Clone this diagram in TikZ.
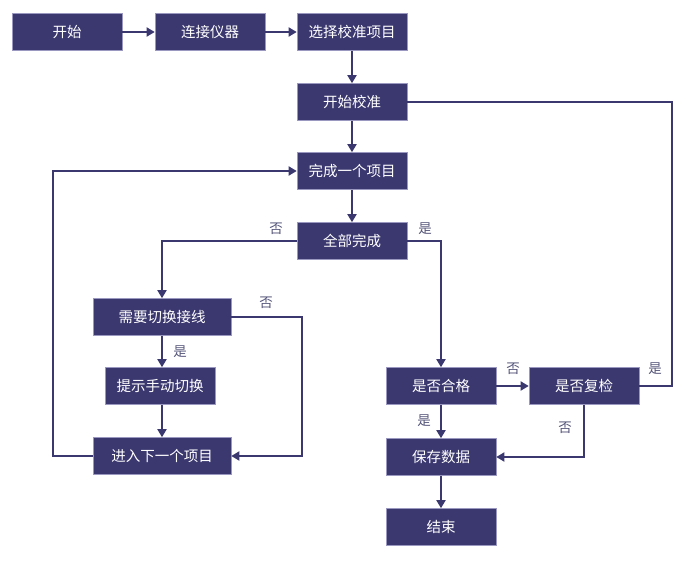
\documentclass[tikz,border=0pt]{standalone}
\usepackage{fontspec}
\setmainfont{Noto Sans CJK SC}
\usetikzlibrary{arrows.meta}
\definecolor{boxfill}{HTML}{3B3870}
\definecolor{boxedge}{HTML}{9A98C0}
\definecolor{linec}{HTML}{3B3870}
\definecolor{labc}{HTML}{55557A}
\begin{document}
\begin{tikzpicture}[x=1pt,y=-1pt,
  box/.style={draw=boxedge,line width=0.6pt,fill=boxfill,text=white,font=\fontsize{14.5}{15}\selectfont,minimum width=110pt,minimum height=37pt,inner sep=0pt},
  wide/.style={box,minimum width=138pt},
  conn/.style={draw=linec,line width=1.8pt},
  arr/.style={conn,-{Triangle[length=8pt,width=9pt]}},
  lab/.style={text=labc,font=\fontsize{13.5}{14}\selectfont,inner sep=0pt}]
\useasboundingbox (0,0) rectangle (679,561);
\node[box] (start) at (67,32) {开始};
\node[box] (connect) at (210,32) {连接仪器};
\node[box] (select) at (352,32) {选择校准项目};
\node[box] (calib) at (352,102) {开始校准};
\node[box] (done1) at (352,171) {完成一个项目};
\node[box] (all) at (352,241) {全部完成};
\node[wide] (need) at (162,317) {需要切换接线};
\node[box] (prompt) at (160,386) {提示手动切换};
\node[wide] (next) at (162,456) {进入下一个项目};
\node[box] (qual) at (441,386) {是否合格};
\node[box] (recheck) at (584,386) {是否复检};
\node[box] (save) at (441,457) {保存数据};
\node[box] (end) at (441,527) {结束};
\coordinate (rr) at (672,102);
\coordinate (nr) at (302,317);
\coordinate (ll) at (53,456);
\draw[arr] (start) -- (connect);
\draw[arr] (connect) -- (select);
\draw[arr] (select) -- (calib);
\draw[arr] (calib) -- (done1);
\draw[arr] (done1) -- (all);
\draw[arr] (all.west) -| (need.north);
\draw[arr] (all.east) -| (qual.north);
\draw[arr] (need.south) -- (need.south |- prompt.north);
\draw[arr] (need.south |- prompt.south) -- (next.north);
\draw[arr] (need.east) -- (nr) |- (next.east);
\draw[arr] (next.west) -- (ll) |- (done1.west);
\draw[conn] (calib.east) -- (rr) |- (recheck.east);
\draw[arr] (qual) -- (recheck);
\draw[arr] (qual) -- (save);
\draw[arr] (recheck.south) |- (save.east);
\draw[arr] (save) -- (end);
\node[lab] (l1) at (276,229) {否};
\node[lab] (l2) at (425,229) {是};
\node[lab] (l3) at (266,303) {否};
\node[lab] (l4) at (180,352) {是};
\node[lab] (l5) at (513,369) {否};
\node[lab] (l6) at (655,369) {是};
\node[lab] (l7) at (424,421) {是};
\node[lab] (l8) at (565,428) {否};
\end{tikzpicture}
\end{document}
